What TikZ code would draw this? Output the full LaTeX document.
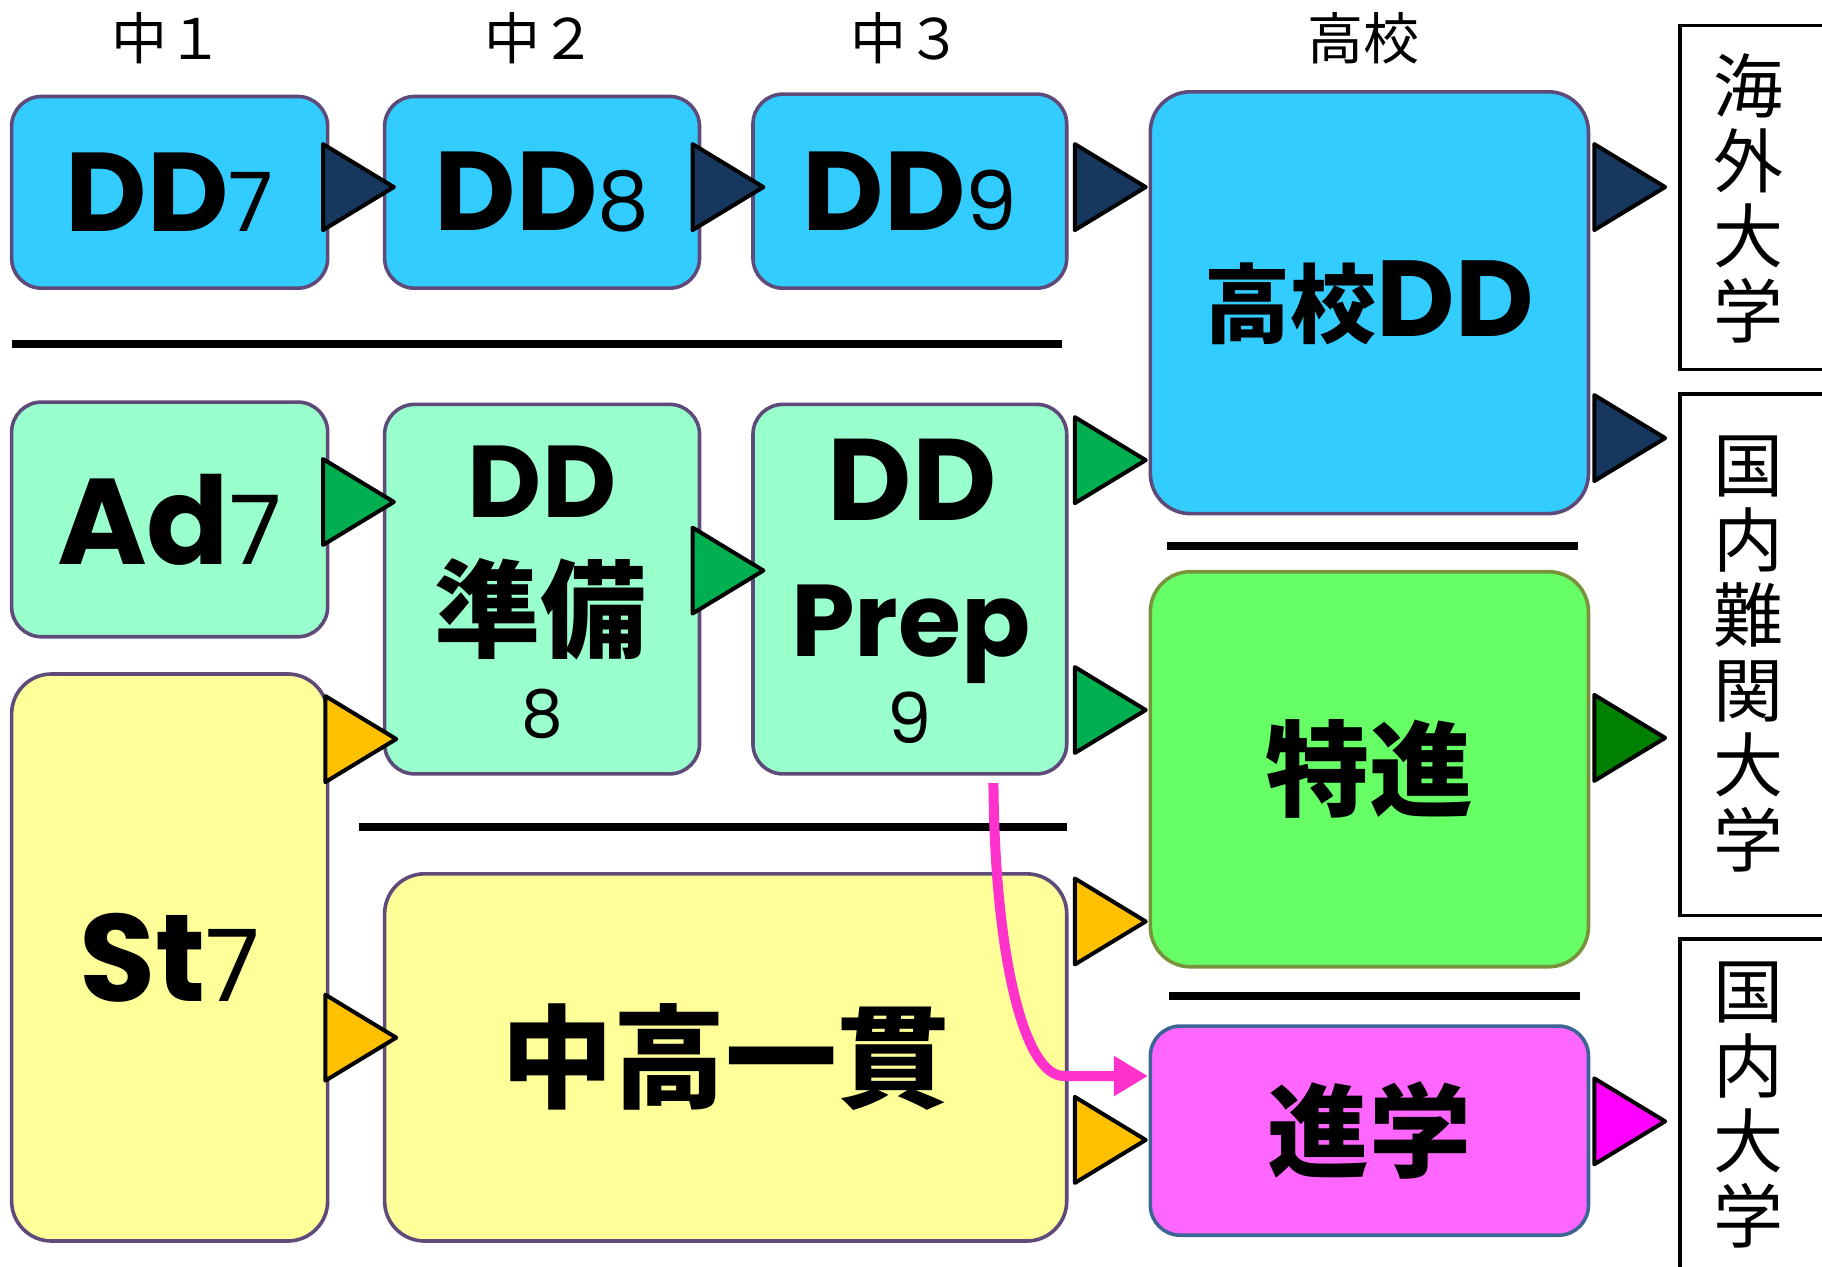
\documentclass[tikz,border=0pt]{standalone}
\usepackage{fontspec}
\setmainfont{Poppins}
\newfontfamily\jp{Noto Sans CJK JP}
\usetikzlibrary{arrows.meta}

\definecolor{ddblue}{HTML}{33CCFF}
\definecolor{prepmint}{HTML}{99FFCC}
\definecolor{stdyellow}{HTML}{FFFF99}
\definecolor{tokugreen}{HTML}{66FF66}
\definecolor{shinpink}{HTML}{FF66FF}
\definecolor{boxline}{HTML}{5F4B7A}
\definecolor{tokuline}{HTML}{77933C}
\definecolor{shinline}{HTML}{3C6494}
\definecolor{trinavy}{HTML}{17375E}
\definecolor{trigreen}{HTML}{00B050}
\definecolor{tridkgreen}{HTML}{008000}
\definecolor{triorange}{HTML}{FFC000}
\definecolor{trimagenta}{HTML}{FF00FF}
\definecolor{curvepink}{HTML}{FF33CC}

\newcommand\unitpx{0.581pt}
\newcommand\gradenum[2]{{\mdseries\fontsize{#1}{#1}\selectfont#2}}
\newcommand\fsz[1]{\fontsize{#1}{#1}\selectfont}

\begin{document}
\begin{tikzpicture}[x=0.581pt,y=-0.581pt,inner sep=0pt,outer sep=0pt,
stagebox/.style={draw=boxline,rectangle,rounded corners=15pt,line width=1.8pt,align=center},
bigbox/.style={stagebox,rounded corners=20pt},
gradehead/.style={font=\jp\fsz{28}},
lineword/.style={anchor=base},
univlabel/.style={align=center,font=\jp\fontsize{35}{37.5}\selectfont},
univbox/.style={draw=black,line width=1.8pt},
sepline/.style={draw=black,line width=4pt},
arrowtri/.style={draw=black,line width=2pt,line join=round},
jumpline/.style={draw=curvepink,line width=5pt,-{Triangle[length=17pt,width=19pt]}}]
\useasboundingbox (0,0) rectangle (1568,1090);

\node[gradehead] (g1) at (144,33) {中１};
\node[gradehead] (g2) at (465,33) {中２};
\node[gradehead] (g3) at (780,33) {中３};
\node[gradehead] (g4) at (1173,33) {高校};

\draw (146,165.5) node[stagebox,fill=ddblue,minimum width=272*\unitpx,minimum height=165*\unitpx,font=\fsz{56}\bfseries] (dd7) {DD\gradenum{41}{7}};
\draw (466.5,165.5) node[stagebox,fill=ddblue,minimum width=271*\unitpx,minimum height=165*\unitpx,font=\fsz{56}\bfseries] (dd8) {DD\gradenum{41}{8}};
\draw (783,164.5) node[stagebox,fill=ddblue,minimum width=270*\unitpx,minimum height=167*\unitpx,font=\fsz{56}\bfseries] (dd9) {DD\gradenum{41}{9}};
\draw (1178.5,260.5) node[bigbox,fill=ddblue,minimum width=377*\unitpx,minimum height=363*\unitpx,font=\fsz{54}\bfseries] (hsdd) {{\jp\fsz{43}高校}DD};

\draw (10,296) [sepline] -- (914,296);

\draw (146,447) node[stagebox,fill=prepmint,minimum width=272*\unitpx,minimum height=202*\unitpx,font=\fsz{61}\bfseries] (ad7) {Ad\gradenum{48}{7}};
\draw (466.5,507) node[stagebox,fill=prepmint,minimum width=271*\unitpx,minimum height=318*\unitpx] (prep8) {};
\node[lineword,font=\fsz{51}\bfseries] (prep8dd) at (466.5,445) {DD};
\node[lineword,font=\jp\fsz{53}\bfseries] (prep8jp) at (465,559) {準備};
\node[lineword,font=\fsz{33}] (prep8num) at (467,635) {8};
\draw (783,507) node[stagebox,fill=prepmint,minimum width=270*\unitpx,minimum height=318*\unitpx] (prep9) {};
\node[lineword,font=\fsz{58}\bfseries] (prep9dd) at (785,448) {DD};
\node[lineword,font=\fsz{51}\bfseries] (prep9en) at (784,565) {Prep};
\node[lineword,font=\fsz{35}] (prep9num) at (783,640) {9};

\draw (309,712) [sepline] -- (918,712);

\draw (146,824) node[bigbox,fill=stdyellow,minimum width=272*\unitpx,minimum height=488*\unitpx,font=\fsz{62}\bfseries] (st7) {St\gradenum{50}{7}};
\draw (624.5,910) node[bigbox,fill=stdyellow,minimum width=587*\unitpx,minimum height=316*\unitpx,font=\jp\fsz{56}\bfseries] (ikkan) {中高一貫};

\draw (1004,470) [sepline] -- (1358,470);
\draw (1178.5,662) node[bigbox,draw=tokuline,fill=tokugreen,minimum width=377*\unitpx,minimum height=340*\unitpx,font=\jp\fsz{52}\bfseries] (toku) {特進};
\draw (1006,857) [sepline] -- (1360,857);
\draw (1178.5,973) node[stagebox,draw=shinline,fill=shinpink,minimum width=377*\unitpx,minimum height=180*\unitpx,font=\jp\fsz{51}\bfseries] (shin) {進学};

\draw[univbox] (1600,22) -| (1446,318) -- (1600,318);
\draw[univbox] (1600,339) -| (1446,788) -- (1600,788);
\draw[univbox] (1600,808) -| (1446,1120);
\node[univlabel] (abroad) at (1505,171) {海\\外\\大\\学};
\node[univlabel] (elite) at (1505,563) {国\\内\\難\\関\\大\\学};
\node[univlabel] (domestic) at (1505,951) {国\\内\\大\\学};

\foreach \x/\y/\c in {278/161/trinavy,596/161/trinavy,925/161/trinavy,1372/161/trinavy,1372/377/trinavy,
  278/432/trigreen,596/491/trigreen,925/396/trigreen,925/611/trigreen,1372/635/tridkgreen,
  280/636/triorange,280/893/triorange,925/793/triorange,925/981/triorange,1372/965/trimagenta}
  \filldraw[arrowtri,fill=\c] (\x,\y-37) -- (\x+61,\y) -- (\x,\y+37) -- cycle;

\coordinate (jumpstart) at ([xshift=41.8pt,yshift=-4.6pt]prep9.south);
\coordinate (jumpend) at ([xshift=-1.2pt,yshift=27.3pt]shin.west);
\draw[jumpline] (jumpstart) .. controls +(1,146) and +(-35,0) .. ([xshift=-42pt]jumpend) -- (jumpend);
\end{tikzpicture}
\end{document}
